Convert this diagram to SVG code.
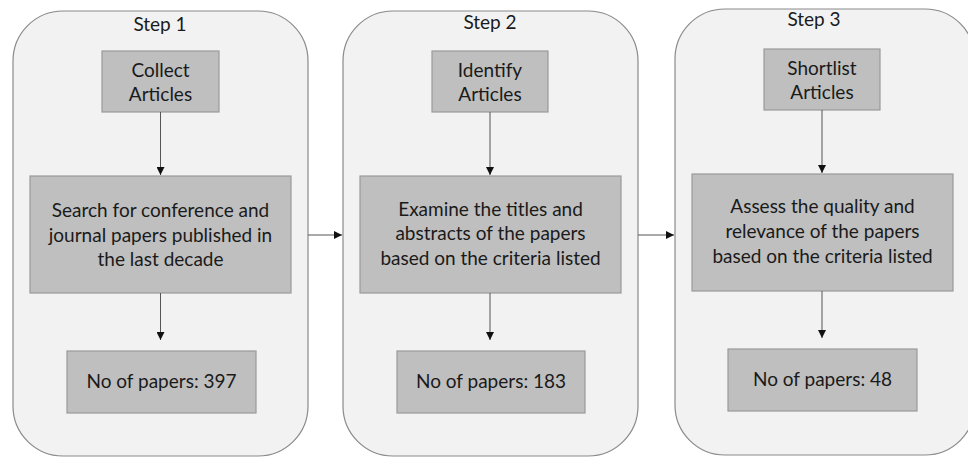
<svg xmlns="http://www.w3.org/2000/svg" width="968" height="457" viewBox="0 0 968 457">
<style>
.cont{fill:#f2f2f2;stroke:#8a8a8a;stroke-width:1.2}
.box{fill:#bfbfbf;stroke:#9a9a9a;stroke-width:1.2}
text{font-family:Lato,"Liberation Sans",sans-serif;font-size:19px;fill:#1a1a1a;text-anchor:middle}
.conn{stroke:#555;stroke-width:1;fill:none;marker-end:url(#ah)}
</style>
<defs>
<marker id="ah" viewBox="0 0 10 10" refX="10" refY="5" markerWidth="8" markerHeight="8" markerUnits="userSpaceOnUse" orient="auto">
<path d="M0,0 L10,5 L0,10 z" fill="#111"/>
</marker>
</defs>
<rect width="968" height="457" fill="#ffffff"/>
<g id="step1">
<rect class="cont" x="13" y="11" width="295" height="445" rx="50" ry="50"/>
<text x="160" y="31">Step 1</text>
</g>
<g id="step2">
<rect class="cont" x="343" y="11" width="295" height="445" rx="50" ry="50"/>
<text x="490" y="29">Step 2</text>
</g>
<g id="step3">
<rect class="cont" x="675" y="9" width="300" height="446" rx="50" ry="50"/>
<text x="814" y="26">Step 3</text>
</g>
<g id="collect">
<rect class="box" x="102" y="51" width="117" height="61"/>
<text x="160.5" y="77">Collect</text>
<text x="160.5" y="101">Articles</text>
</g>
<g id="search">
<rect class="box" x="30" y="176" width="261" height="117"/>
<text x="160.5" y="217">Search for conference and</text>
<text x="160.5" y="242">journal papers published in</text>
<text x="160.5" y="266">the last decade</text>
</g>
<g id="count1">
<rect class="box" x="67" y="351" width="189" height="62"/>
<text x="161.5" y="388">No of papers: 397</text>
</g>
<g id="identify">
<rect class="box" x="432" y="51" width="116" height="61"/>
<text x="490" y="77">Identify</text>
<text x="490" y="101">Articles</text>
</g>
<g id="examine">
<rect class="box" x="360" y="176" width="261" height="117"/>
<text x="490.5" y="216">Examine the titles and</text>
<text x="490.5" y="240">abstracts of the papers</text>
<text x="490.5" y="265">based on the criteria listed</text>
</g>
<g id="count2">
<rect class="box" x="397" y="351" width="188" height="62"/>
<text x="491" y="388">No of papers: 183</text>
</g>
<g id="shortlist">
<rect class="box" x="764" y="49" width="116" height="61"/>
<text x="822" y="75">Shortlist</text>
<text x="822" y="99">Articles</text>
</g>
<g id="assess">
<rect class="box" x="692" y="174" width="261" height="117"/>
<text x="822.5" y="213">Assess the quality and</text>
<text x="822.5" y="238">relevance of the papers</text>
<text x="822.5" y="263">based on the criteria listed</text>
</g>
<g id="count3">
<rect class="box" x="728" y="349" width="189" height="62"/>
<text x="822.5" y="386">No of papers: 48</text>
</g>
<g id="connectors">
<line class="conn" x1="160.5" y1="112" x2="160.5" y2="175"/>
<line class="conn" x1="160.5" y1="293" x2="160.5" y2="340"/>
<line class="conn" x1="490" y1="112" x2="490" y2="175"/>
<line class="conn" x1="490" y1="293" x2="490" y2="340"/>
<line class="conn" x1="822" y1="110" x2="822" y2="173"/>
<line class="conn" x1="822" y1="291" x2="822" y2="338"/>
<line class="conn" x1="308" y1="235" x2="342" y2="235"/>
<line class="conn" x1="638" y1="235" x2="674" y2="235"/>
</g>
</svg>
